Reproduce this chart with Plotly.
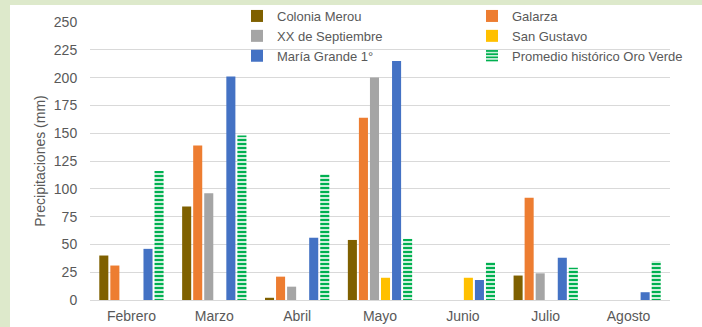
import plotly.graph_objects as go

months = ["Febrero", "Marzo", "Abril", "Mayo", "Junio", "Julio", "Agosto"]

colonia_merou = [40, 84, 2, 54, None, 22, None]
galarza = [31, 139, 21, 164, None, 92, None]
xx_septiembre = [None, 96, 12, 200, None, 24, None]
san_gustavo = [None, None, None, 20, 20, None, None]
maria_grande = [46, 201, 56, 215, 18, 38, 7]
promedio_oro_verde = [116, 148, 113, 55, 34, 29, 35]

series = [
    ("Colonia Merou", colonia_merou, "#7f6000"),
    ("Galarza", galarza, "#ed7d31"),
    ("XX de Septiembre", xx_septiembre, "#a5a5a5"),
    ("San Gustavo", san_gustavo, "#ffc000"),
    ("María Grande 1°", maria_grande, "#4472c4"),
]

FONT = "Liberation Sans, Arial, sans-serif"
TXT = "#595959"

fig = go.Figure()
for name, vals, col in series:
    fig.add_trace(go.Bar(x=months, y=vals, name=name,
                         marker=dict(color=col, line=dict(width=0))))

fig.add_trace(go.Bar(
    x=months, y=promedio_oro_verde, name="Promedio histórico Oro Verde",
    marker=dict(color="white", line=dict(width=0),
                pattern=dict(shape="-", fgcolor="#00b050", bgcolor="white",
                             fgopacity=1, size=4, solidity=0.6, fillmode="overlay"))))

L, R, T, B = 90, 32, 22, 27
W, H = 702, 327
pw = W - L - R
ph = H - T - B

fig.add_shape(type="rect", xref="paper", yref="paper", layer="below",
              x0=(10 - L) / pw, x1=(W - L) / pw,
              y0=-B / ph, y1=(H - B - 5) / ph,
              fillcolor="white", line=dict(width=0))

fig.update_layout(
    width=W, height=H,
    margin=dict(l=L, r=R, t=T, b=B, autoexpand=False),
    paper_bgcolor="#dde9cb",
    plot_bgcolor="white",
    barmode="group",
    bargap=0.2,
    bargroupgap=0.18,
    font=dict(family=FONT, color=TXT, size=14),
    legend=dict(
        orientation="h",
        x=(237 - L) / pw, xanchor="left",
        y=1 + (T - 1) / ph, yanchor="top",
        entrywidth=190, entrywidthmode="pixels",
        font=dict(size=13, color=TXT, family=FONT),
        bgcolor="rgba(0,0,0,0)",
        traceorder="normal",
        itemclick=False,
    ),
    yaxis=dict(
        range=[0, 250], dtick=25, tick0=0,
        showgrid=True, gridcolor="#d9d9d9", gridwidth=1,
        zeroline=True, zerolinecolor="#d9d9d9", zerolinewidth=1,
        showline=False,
        ticks="outside", ticklen=9, tickcolor="rgba(0,0,0,0)",
        tickfont=dict(size=14, color=TXT),
        title=dict(text="Precipitaciones (mm)", font=dict(size=14, color=TXT), standoff=4),
        automargin=False,
    ),
    xaxis=dict(
        showgrid=False, showline=False,
        ticks="outside", ticklen=3, tickcolor="rgba(0,0,0,0)",
        tickfont=dict(size=14, color=TXT),
        automargin=False,
    ),
    showlegend=True,
)

fig.write_html("out.html")
